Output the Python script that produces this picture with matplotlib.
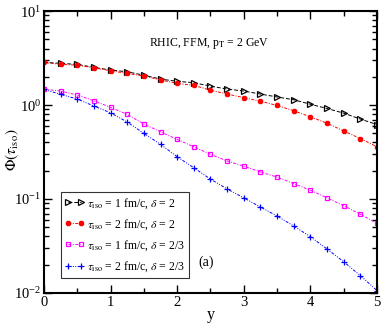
import matplotlib
matplotlib.use("Agg")
import matplotlib.pyplot as plt
from matplotlib.ticker import LogLocator, MultipleLocator, NullFormatter

plt.rcParams['font.family'] = ['Liberation Serif', 'DejaVu Serif']
plt.rcParams['mathtext.fontset'] = 'stix'

y_vals = [0.0, 0.25, 0.5, 0.75, 1.0, 1.25, 1.5, 1.75, 2.0, 2.25, 2.5, 2.75,
          3.0, 3.25, 3.5, 3.75, 4.0, 4.25, 4.5, 4.75, 5.0]

phi_t1_d2 = [2.85, 2.78, 2.71, 2.52, 2.36, 2.26, 2.08, 1.89, 1.79, 1.73, 1.59, 1.48,
             1.41, 1.31, 1.22, 1.14, 1.02, 0.92, 0.82, 0.71, 0.62]
phi_t2_d2 = [2.85, 2.71, 2.66, 2.49, 2.32, 2.17, 2.04, 1.85, 1.70, 1.62, 1.44, 1.31,
             1.20, 1.10, 0.99, 0.87, 0.75, 0.64, 0.53, 0.44, 0.36]
phi_t1_d23 = [1.48, 1.41, 1.28, 1.11, 0.946, 0.796, 0.628, 0.520, 0.431, 0.360, 0.299,
              0.254, 0.224, 0.194, 0.171, 0.146, 0.124, 0.103, 0.085, 0.0688, 0.0551]
phi_t2_d23 = [1.47, 1.30, 1.16, 0.976, 0.828, 0.660, 0.500, 0.382, 0.282, 0.215, 0.163,
              0.128, 0.103, 0.0822, 0.0659, 0.0516, 0.0397, 0.0294, 0.0215, 0.0153, 0.0106]

labels = [r'$\tau_{\rm iso}$ = 1 fm/c, $\delta$ = 2',
          r'$\tau_{\rm iso}$ = 2 fm/c, $\delta$ = 2',
          r'$\tau_{\rm iso}$ = 1 fm/c, $\delta$ = 2/3',
          r'$\tau_{\rm iso}$ = 2 fm/c, $\delta$ = 2/3']

fig = plt.figure(figsize=(3.82, 3.27), dpi=100)
ax = fig.add_axes([0.115, 0.104, 0.872, 0.862])

ax.plot(y_vals, phi_t1_d2, color='black', linestyle=(0, (4, 2)), linewidth=0.7,
        marker='>', markersize=3.8, markerfacecolor='none', markeredgecolor='black',
        markeredgewidth=0.9, label=labels[0])
ax.plot(y_vals, phi_t2_d2, color='red', linestyle=(0, (3, 1.5, 1, 1.5)), linewidth=0.7,
        marker='8', markersize=3.6, markerfacecolor='red', markeredgecolor='red',
        label=labels[1])
ax.plot(y_vals, phi_t1_d23, color='magenta', linestyle=(0, (3, 1.5, 1, 1.5)), linewidth=0.7,
        marker='s', markersize=3.3, markerfacecolor='none', markeredgecolor='magenta',
        markeredgewidth=0.9, label=labels[2])
ax.plot(y_vals, phi_t2_d23, color='blue', linestyle=(0, (3, 1.5, 1, 1.5, 1, 1.5)), linewidth=0.7,
        marker='+', markersize=5, markeredgecolor='blue', markeredgewidth=0.9,
        label=labels[3])

ax.set_yscale('log')
ax.set_xlim(0, 5)
ax.set_ylim(1e-2, 10)
ax.xaxis.set_major_locator(MultipleLocator(1))
ax.xaxis.set_minor_locator(MultipleLocator(0.5))
ax.yaxis.set_major_locator(LogLocator(base=10, numticks=10))
ax.yaxis.set_minor_locator(LogLocator(base=10, subs=range(2, 10), numticks=20))
ax.yaxis.set_minor_formatter(NullFormatter())

ax.tick_params(which='both', direction='in', top=True, right=True, labelsize=10.5,
               width=1.0, pad=2)
ax.tick_params(which='major', length=6)
ax.tick_params(which='minor', length=3.5)
for s in ax.spines.values():
    s.set_linewidth(1.5)

ax.set_xlabel('y', fontsize=11.5, labelpad=-1)
fig.text(4 / 382, 1 - 150 / 327, r'$\Phi(\tau_{\rm iso})$', fontsize=11, rotation=90,
         ha='left', va='center')

ax.text(0.495, 0.885, r'RHIC, FFM, p$_{\rm T}$ = 2 GeV', transform=ax.transAxes,
        ha='center', va='center', fontsize=8.5)
ax.text(0.487, 0.11, '(a)', transform=ax.transAxes, ha='center', va='center', fontsize=10)

leg = ax.legend(loc='lower left', bbox_to_anchor=(0.05, 0.053), fontsize=8.5, numpoints=2,
                handlelength=1.7, handletextpad=0.15, borderpad=0.35, labelspacing=0.55,
                frameon=True, fancybox=False, edgecolor='black', borderaxespad=0)
leg.get_frame().set_linewidth(0.8)

fig.savefig('out.png', dpi=100)
